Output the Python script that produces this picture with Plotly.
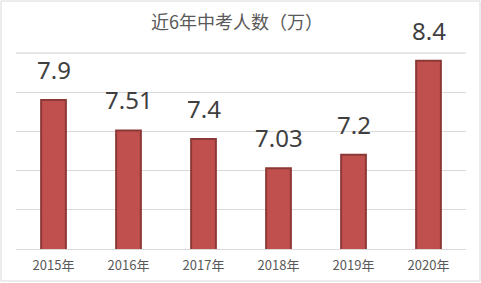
import plotly.graph_objects as go

years = ["2015年", "2016年", "2017年", "2018年", "2019年", "2020年"]
values = [7.9, 7.51, 7.4, 7.03, 7.2, 8.4]
labels = ["7.9", "7.51", "7.4", "7.03", "7.2", "8.4"]
title = "近6年中考人数（万）"
y_min, y_max, y_step = 6, 8.5, 0.5

W, H = 481, 283
L, R, T, B = 16, 15, 52, 34
pw, ph = W - L - R, H - T - B

fig = go.Figure(go.Bar(
    x=years, y=values,
    marker=dict(color="#C0504D", line=dict(color="#8C3836", width=2)),
    hoverinfo="skip",
))

for x, y, t in zip(years, values, labels):
    fig.add_annotation(x=x, y=y, text=t, showarrow=False, yanchor="bottom",
                       yshift=12, font=dict(size=24, color="#404040", family="Noto Sans"))

# top gridline at y_max, drawn in data coordinates slightly inside the plot area
fig.add_shape(type="line", xref="paper", yref="y", x0=0, x1=1,
              y0=y_max - 0.004, y1=y_max - 0.004,
              line=dict(color="#D0D0D0", width=1), layer="above")

# outer chart border
fig.add_shape(type="rect", xref="paper", yref="paper",
              x0=(1 - L) / pw, x1=(W - 1 - L) / pw,
              y0=(T + ph - (H - 2)) / ph, y1=(T + ph - 1) / ph,
              line=dict(color="#D9D9D9", width=1), layer="above")

fig.update_layout(
    width=W, height=H,
    margin=dict(l=L, r=R, t=T, b=B, autoexpand=False),
    paper_bgcolor="white", plot_bgcolor="rgba(0,0,0,0)",
    bargap=0.67,
    showlegend=False,
    title=dict(text=title, x=(237 - L) / pw, xref="paper", xanchor="center",
               y=1 - 23 / H, yanchor="middle", automargin=False,
               font=dict(size=18, color="#595959", family="Noto Sans CJK SC")),
    xaxis=dict(showgrid=False, showline=True, linecolor="#D9D9D9",
               linewidth=1, ticks="", ticklabelstandoff=4, automargin=False,
               tickfont=dict(size=13, color="#595959", family="Noto Sans CJK SC"),
               fixedrange=True),
    yaxis=dict(range=[y_min, y_max + 0.01], tick0=y_min, dtick=y_step, showgrid=True,
               gridcolor="#D9D9D9", gridwidth=1, showticklabels=False, zeroline=False,
               showline=False, ticks="", automargin=False, fixedrange=True),
)

fig.write_html("out.html")
